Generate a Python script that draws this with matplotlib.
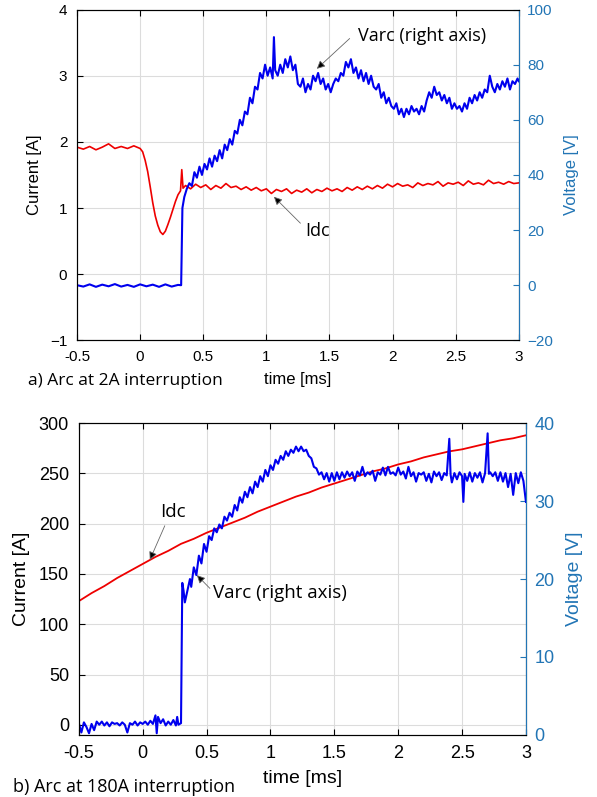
import numpy as np
import matplotlib
matplotlib.use("Agg")
import matplotlib.pyplot as plt

plt.rcParams['font.family'] = ['Liberation Sans', 'DejaVu Sans']

# ---- a) arc at 2A interruption ----
t_idc_a = [-0.5, -0.45, -0.4, -0.35, -0.3, -0.25, -0.2, -0.15, -0.1, -0.05, 0.0,
           0.02, 0.04, 0.06, 0.08, 0.10, 0.12, 0.14, 0.16, 0.18, 0.20, 0.22, 0.24,
           0.26, 0.28, 0.30, 0.32, 0.33, 0.34,
           0.36, 0.40, 0.44, 0.48, 0.52, 0.56, 0.60, 0.64, 0.68, 0.72, 0.76, 0.80,
           0.84, 0.88, 0.92, 0.96, 1.00, 1.04, 1.08, 1.12, 1.16, 1.20, 1.24, 1.28,
           1.32, 1.36, 1.40, 1.44, 1.48, 1.52, 1.56, 1.60, 1.64, 1.68, 1.72, 1.76,
           1.80, 1.84, 1.88, 1.92, 1.96, 2.00, 2.04, 2.08, 2.12, 2.16, 2.20, 2.24,
           2.28, 2.32, 2.36, 2.40, 2.44, 2.48, 2.52, 2.56, 2.60, 2.64, 2.68, 2.72,
           2.76, 2.80, 2.84, 2.88, 2.92, 2.96, 3.00]
idc_a = [1.92, 1.89, 1.93, 1.88, 1.92, 1.97, 1.90, 1.93, 1.90, 1.94, 1.90,
         1.85, 1.72, 1.55, 1.32, 1.08, 0.88, 0.74, 0.64, 0.60, 0.65, 0.75, 0.86,
         0.98, 1.10, 1.20, 1.26, 1.58, 1.30,
         1.34, 1.29, 1.36, 1.31, 1.35, 1.28, 1.34, 1.30, 1.37, 1.31, 1.33, 1.28,
         1.32, 1.27, 1.31, 1.26, 1.29, 1.22, 1.28, 1.25, 1.29, 1.22, 1.27, 1.24,
         1.29, 1.23, 1.28, 1.25, 1.30, 1.26, 1.29, 1.25, 1.31, 1.27, 1.32, 1.28,
         1.33, 1.29, 1.34, 1.30, 1.36, 1.32, 1.37, 1.33, 1.35, 1.31, 1.38, 1.34,
         1.37, 1.35, 1.40, 1.33, 1.38, 1.36, 1.39, 1.34, 1.41, 1.36, 1.38, 1.35,
         1.42, 1.37, 1.39, 1.36, 1.40, 1.37, 1.38]

t_varc_a = [-0.5, -0.45, -0.4, -0.35, -0.3, -0.25, -0.2, -0.15, -0.1, -0.05, 0.0,
            0.05, 0.1, 0.15, 0.2, 0.25, 0.3, 0.325,
            0.33, 0.335, 0.35, 0.37, 0.39, 0.41, 0.43, 0.45, 0.47, 0.49, 0.51,
            0.53, 0.55, 0.57, 0.59, 0.61, 0.63, 0.65, 0.67, 0.69, 0.71, 0.73,
            0.75, 0.77, 0.79, 0.81, 0.83, 0.85, 0.87, 0.89, 0.91, 0.93, 0.95,
            0.97, 0.99, 1.01, 1.03, 1.05, 1.06, 1.07, 1.09, 1.11, 1.13, 1.15,
            1.17, 1.19, 1.21, 1.23, 1.25, 1.27, 1.29, 1.31, 1.33, 1.35, 1.37,
            1.39, 1.41, 1.43, 1.45, 1.47, 1.49, 1.51, 1.53, 1.55, 1.57, 1.59,
            1.61, 1.63, 1.65, 1.67, 1.69, 1.71, 1.73, 1.75, 1.77, 1.79, 1.81,
            1.83, 1.85, 1.87, 1.89, 1.91, 1.93, 1.95, 1.97, 1.99, 2.01, 2.03,
            2.05, 2.07, 2.09, 2.11, 2.13, 2.15, 2.17, 2.19, 2.21, 2.23, 2.25,
            2.27, 2.29, 2.31, 2.33, 2.35, 2.37, 2.39, 2.41, 2.43, 2.45, 2.47,
            2.49, 2.51, 2.53, 2.55, 2.57, 2.59, 2.61, 2.63, 2.65, 2.67, 2.69,
            2.71, 2.73, 2.75, 2.77, 2.79, 2.81, 2.83, 2.85, 2.87, 2.89, 2.91,
            2.93, 2.95, 2.97, 2.99, 3.0]
varc_a = [0.0, -0.5, 0.3, -0.6, 0.2, -0.4, 0.4, -0.5, 0.1, -0.6, 0.3,
          -0.4, 0.2, -0.6, 0.3, -0.5, 0.1, 0.0,
          15, 28, 32, 35, 37, 36, 41, 39, 43, 40, 44,
          42, 46, 43, 47, 45, 49, 46, 51, 49, 53, 51,
          56, 55, 60, 58, 63, 62, 68, 66, 72, 71, 77,
          75, 80, 76, 79, 75, 90, 78, 76, 80, 77, 82,
          79, 83, 78, 80, 73, 72, 75, 70, 73, 71, 76,
          74, 77, 73, 75, 71, 73, 70, 73, 75, 74, 77,
          76, 81, 79, 82, 77, 79, 75, 78, 74, 77, 73,
          76, 72, 71, 73, 68, 70, 66, 68, 65, 64, 66,
          62, 64, 61, 64, 62, 65, 63, 64, 62, 65, 63,
          67, 70, 68, 72, 69, 70, 67, 69, 66, 68, 64,
          66, 64, 65, 63, 66, 64, 68, 66, 69, 67, 70,
          68, 71, 70, 76, 72, 70, 73, 71, 74, 72, 75,
          71, 74, 73, 75, 74]

# ---- b) arc at 180A interruption ----
t_idc_b = [-0.5, -0.4, -0.3, -0.2, -0.1, 0.0, 0.1, 0.2, 0.3, 0.4, 0.5, 0.6,
           0.7, 0.8, 0.9, 1.0, 1.1, 1.2, 1.3, 1.4, 1.5, 1.6, 1.7, 1.8, 1.9,
           2.0, 2.1, 2.2, 2.3, 2.4, 2.5, 2.6, 2.7, 2.8, 2.9, 3.0]
idc_b = [123, 131, 138, 146, 153, 160, 167, 173, 180, 185, 191, 196,
         201, 206, 212, 217, 222, 227, 231, 236, 240, 244, 248, 252, 255,
         259, 262, 266, 269, 272, 274, 277, 280, 283, 285, 288]

t_varc_b = [-0.5, -0.48, -0.46, -0.44, -0.42, -0.40, -0.38, -0.36, -0.34, -0.32,
            -0.30, -0.28, -0.26, -0.24, -0.22, -0.20, -0.18, -0.16, -0.14, -0.12,
            -0.10, -0.08, -0.06, -0.04, -0.02, 0.0, 0.02, 0.04, 0.06, 0.08,
            0.10, 0.11, 0.12, 0.14, 0.16, 0.18, 0.20, 0.22, 0.24, 0.26, 0.27,
            0.28, 0.30, 0.305, 0.31, 0.32, 0.33, 0.35, 0.37, 0.38, 0.40, 0.42,
            0.44, 0.46, 0.48, 0.50, 0.52, 0.54, 0.56, 0.58, 0.60, 0.62, 0.64,
            0.66, 0.68, 0.70, 0.72, 0.74, 0.76, 0.78, 0.80, 0.82, 0.84, 0.86,
            0.88, 0.90, 0.92, 0.94, 0.96, 0.98, 1.00, 1.02, 1.04, 1.06, 1.08,
            1.10, 1.12, 1.14, 1.16, 1.18, 1.20, 1.22, 1.24, 1.26, 1.28, 1.30,
            1.32, 1.34, 1.36, 1.38, 1.40, 1.42, 1.44, 1.46, 1.48, 1.50, 1.52,
            1.54, 1.56, 1.58, 1.60, 1.62, 1.64, 1.66, 1.68, 1.70, 1.72, 1.74,
            1.76, 1.78, 1.80, 1.82, 1.84, 1.86, 1.88, 1.90, 1.92, 1.94, 1.96,
            1.98, 2.00, 2.02, 2.04, 2.06, 2.08, 2.10, 2.12, 2.14, 2.16, 2.18,
            2.20, 2.22, 2.24, 2.26, 2.28, 2.30, 2.32, 2.34, 2.36, 2.38, 2.40,
            2.41, 2.42, 2.44, 2.46, 2.48, 2.50, 2.51, 2.52, 2.54, 2.56, 2.58,
            2.60, 2.62, 2.64, 2.66, 2.68, 2.70, 2.71, 2.72, 2.74, 2.76, 2.78,
            2.80, 2.82, 2.84, 2.86, 2.88, 2.90, 2.92, 2.94, 2.96, 2.98, 3.0]
varc_b = [1.5, 0.3, 1.6, 1.0, 0.2, 1.4, 0.6, 1.7, 1.3, 1.7,
          1.2, 1.6, 1.1, 1.6, 1.4, 1.5, 1.2, 1.6, 1.3, 0.3,
          1.5, 1.3, 1.7, 1.2, 1.6, 1.4, 1.7, 1.3, 1.8, 1.4,
          2.5, 0.2, 2.3, 1.5, 2.0, 1.2, 1.7, 1.3, 1.9, 1.2, 2.3,
          1.3, 1.5, 10.0, 19.5, 18.5, 17.0, 18.5, 20.0, 19.0, 21.5, 20.5,
          23.0, 22.0, 24.5, 23.5, 25.5, 25.0, 26.5, 26.0, 27.0, 26.5, 28.0,
          27.5, 28.5, 28.0, 29.5, 28.8, 30.5, 29.8, 31.2, 30.5, 31.8, 31.0,
          32.5, 31.8, 33.2, 32.5, 34.0, 33.2, 34.6, 34.0, 35.3, 34.8, 35.8,
          35.3, 36.4, 35.8, 36.6, 36.2, 37.0, 36.4, 37.0, 36.4, 36.6, 35.8,
          35.5, 34.4, 34.2, 33.4, 33.7, 32.8, 33.6, 32.5, 33.6, 32.6, 33.7,
          32.8, 33.7, 33.0, 33.8, 33.2, 33.7, 32.6, 33.8, 33.3, 34.4, 33.2,
          33.7, 33.4, 33.9, 32.6, 33.7, 33.4, 34.3, 33.3, 34.4, 33.5, 33.7,
          33.3, 34.3, 33.4, 33.8, 32.9, 34.4, 33.2, 33.7, 32.5, 33.6, 33.4,
          33.7, 32.6, 33.5, 32.4, 33.8, 33.2, 33.7, 32.7, 33.6, 33.3, 38.0,
          33.4, 32.4, 33.6, 32.8, 33.7, 33.2, 29.9, 33.5, 32.6, 33.7, 32.5,
          33.6, 33.0, 33.7, 32.4, 33.6, 38.7, 33.5, 33.7, 33.2, 33.7, 32.6,
          33.7, 32.5, 33.6, 31.8, 33.5, 30.8, 33.6, 32.3, 33.7, 32.6, 29.9]

red = '#ee0000'
blue = '#0000ee'
rcol = '#2275b5'
cap_font = ['Open Sans', 'DejaVu Sans']

fig = plt.figure(figsize=(5.97, 7.97), dpi=100)
ax1 = fig.add_axes([0.129, 0.573, 0.740, 0.415])
ax3 = fig.add_axes([0.132, 0.078, 0.749, 0.391])


def style(ax, axr, fs):
    ax.grid(True, color='#dcdcdc', lw=0.8)
    ax.set_axisbelow(True)
    ax.tick_params(direction='in', length=4, top=True, right=False,
                   labelsize=fs, width=0.8, pad=7)
    axr.tick_params(axis='y', direction='in', length=4, labelsize=fs,
                    colors=rcol, width=0.8, pad=6)
    axr.spines['right'].set_color(rcol)
    for s in ['left', 'top', 'bottom']:
        ax.spines[s].set_color('#333333')
    ax.set_xlim(-0.5, 3)
    ax.set_xticks([-0.5, 0, 0.5, 1, 1.5, 2, 2.5, 3])
    ax.set_xticklabels(['-0.5', '0', '0.5', '1', '1.5', '2', '2.5', '3'])


arrow = dict(arrowstyle='-|>', fc='black', ec='#666666', lw=0.6,
             mutation_scale=12, shrinkA=0, shrinkB=0)

# top panel
ax2 = ax1.twinx()
ax1.plot(t_idc_a, idc_a, color=red, lw=1.2)
ax2.plot(t_varc_a, varc_a, color=blue, lw=1.5)
ax1.set_ylim(-1, 4)
ax1.set_yticks([-1, 0, 1, 2, 3, 4])
ax2.set_ylim(-20, 100)
ax2.set_yticks([-20, 0, 20, 40, 60, 80, 100])
style(ax1, ax2, 11)
ax1.set_ylabel('Current [A]', fontsize=12, labelpad=6)
ax2.set_ylabel('Voltage [V]', fontsize=12, color=rcol, labelpad=8)
ax1.set_xlabel('time [ms]', fontsize=12, labelpad=6)

ax2.text(1.73, 90.5, 'Varc (right axis)', fontsize=13, family=cap_font,
         ha='left', va='center')
ax2.annotate('', xy=(1.40, 78.5), xytext=(1.66, 89.5), arrowprops=arrow)
ax1.text(1.31, 0.65, 'Idc', fontsize=13, family=cap_font, ha='left', va='center')
ax1.annotate('', xy=(1.06, 1.17), xytext=(1.27, 0.77), arrowprops=arrow)
fig.text(28 / 597, 1 - 381 / 797, 'a) Arc at 2A interruption', fontsize=12.5,
         family=cap_font, ha='left', va='center')

# bottom panel
ax4 = ax3.twinx()
ax3.plot(t_idc_b, idc_b, color=red, lw=1.3)
ax4.plot(t_varc_b, varc_b, color=blue, lw=1.5)
ax3.set_ylim(-10, 300)
ax3.set_yticks([0, 50, 100, 150, 200, 250, 300])
ax4.set_ylim(0, 40)
ax4.set_yticks([0, 10, 20, 30, 40])
style(ax3, ax4, 13)
ax3.set_ylabel('Current [A]', fontsize=14, labelpad=6)
ax4.set_ylabel('Voltage [V]', fontsize=14, color=rcol, labelpad=8)
ax3.set_xlabel('time [ms]', fontsize=14, labelpad=6)

ax3.text(0.134, 212, 'Idc', fontsize=13.5, family=cap_font, ha='left', va='center')
ax3.annotate('', xy=(0.056, 164), xytext=(0.173, 198), arrowprops=arrow)
ax4.text(0.55, 18.2, 'Varc (right axis)', fontsize=13.5, family=cap_font,
         ha='left', va='center')
ax4.annotate('', xy=(0.424, 20.5), xytext=(0.526, 18.8), arrowprops=arrow)
fig.text(13 / 597, 1 - 787 / 797, 'b) Arc at 180A interruption', fontsize=13,
         family=cap_font, ha='left', va='center')

fig.savefig('out.png', dpi=100)
